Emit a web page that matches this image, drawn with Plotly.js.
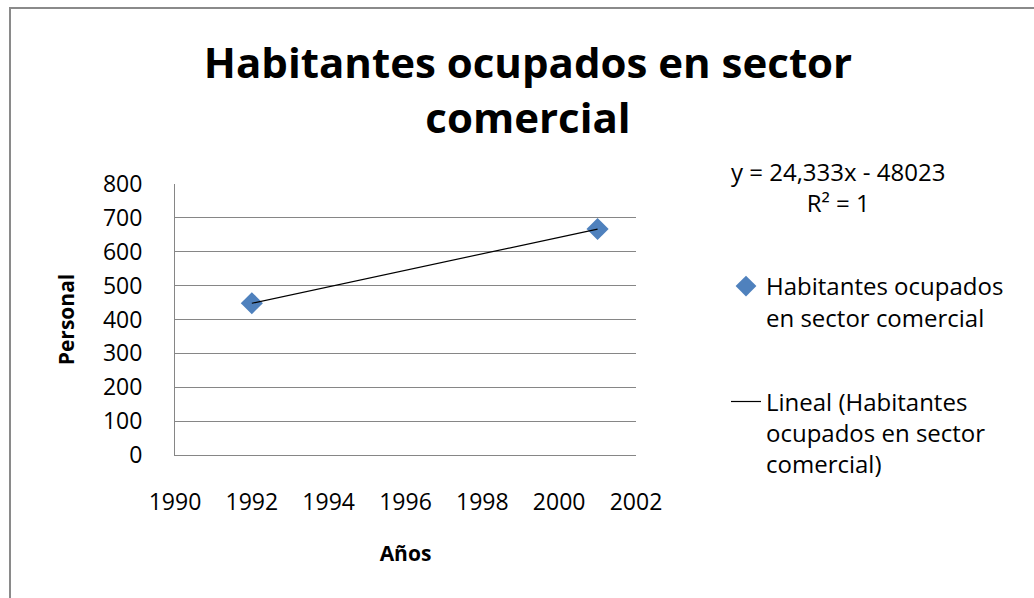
<!DOCTYPE html>
<html>
<head>
<meta charset="utf-8">
<script src="https://cdn.plot.ly/plotly-3.0.1.min.js"></script>
<style>html,body{margin:0;padding:0;background:#fff;}#chart{width:1034px;height:598px;}</style>
</head>
<body>
<div id="chart"></div>
<script>
const years = [1992, 2001];
const personal = [448, 667];
const seriesName = "Habitantes ocupados<br>en sector comercial";
const trendName = "Lineal (Habitantes<br>ocupados en sector<br>comercial)";
const equationText = "y = 24,333x - 48023<br>R² = 1";
const xTicks = [1990, 1992, 1994, 1996, 1998, 2000, 2002];
const yTicks = [0, 100, 200, 300, 400, 500, 600, 700, 800];

const FONT = "'Open Sans', sans-serif";
const W = 1034, H = 598;
const L = 175, R = 636, T = 184, B = 455;
const px = v => (v - L) / (R - L);
const py = v => (B - v) / (B - T);

const traces = [
  {
    x: years, y: personal, type: 'scatter', mode: 'markers', name: seriesName,
    legendgroup: 'a',
    marker: {symbol: 'diamond', size: 17, color: '#4F81BD'},
    hoverinfo: 'skip'
  },
  {
    x: years, y: personal, type: 'scatter', mode: 'lines', name: trendName,
    legendgroup: 'b',
    line: {color: '#000000', width: 1.2},
    hoverinfo: 'skip'
  }
];

const layout = {
  width: W, height: H,
  margin: {l: L, r: W - R, t: T, b: H - B, pad: 0},
  paper_bgcolor: '#ffffff', plot_bgcolor: '#ffffff',
  font: {family: FONT, color: '#000000'},
  title: {
    text: 'Habitantes ocupados en sector<br>comercial',
    font: {family: FONT, size: 42, color: '#000000', weight: 'bold'},
    x: 528 / W, xanchor: 'center',
    y: 1 - 78 / H, yanchor: 'middle', yref: 'container'
  },
  xaxis: {
    range: [1990, 2002], tickvals: xTicks, ticktext: xTicks.map(String),
    showgrid: false, zeroline: false,
    showline: true, linecolor: '#868686', linewidth: 1,
    ticks: '',
    ticklabelstandoff: 26,
    automargin: true,
    tickfont: {family: FONT, size: 23, color: '#000000'},
    title: {text: '<b>Años</b>', font: {family: FONT, size: 21, color: '#000000'}, standoff: 30},
    fixedrange: true
  },
  yaxis: {
    range: [0, 800], tickvals: yTicks, ticktext: yTicks.map(String),
    showgrid: true, gridcolor: '#868686', gridwidth: 1,
    zeroline: false,
    showline: true, linecolor: '#868686', linewidth: 1,
    ticks: '',
    ticklabelstandoff: 27,
    automargin: true,
    tickfont: {family: FONT, size: 23, color: '#000000'},
    title: {text: '<b>Personal</b>', font: {family: FONT, size: 21, color: '#000000'}, standoff: 22},
    fixedrange: true
  },
  showlegend: true,
  legend: {
    x: px(726), xanchor: 'left', y: py(264), yanchor: 'top',
    font: {family: FONT, size: 24, color: '#000000'},
    bgcolor: 'rgba(0,0,0,0)', borderwidth: 0,
    tracegroupgap: 50, valign: 'top', traceorder: 'grouped'
  },
  annotations: [
    {
      text: equationText, xref: 'paper', yref: 'paper',
      x: px(838), y: py(187), xanchor: 'center', yanchor: 'middle',
      showarrow: false, align: 'center',
      font: {family: FONT, size: 24, color: '#000000'}
    }
  ],
  shapes: [
    {type: 'rect', xref: 'paper', yref: 'paper', x0: px(10), x1: px(1060), y0: py(8), y1: py(620),
     line: {color: '#8a8a8a', width: 2}, fillcolor: 'rgba(0,0,0,0)', layer: 'below'}
  ]
};

Plotly.newPlot('chart', traces, layout, {displayModeBar: false, staticPlot: true});
</script>
</body>
</html>
